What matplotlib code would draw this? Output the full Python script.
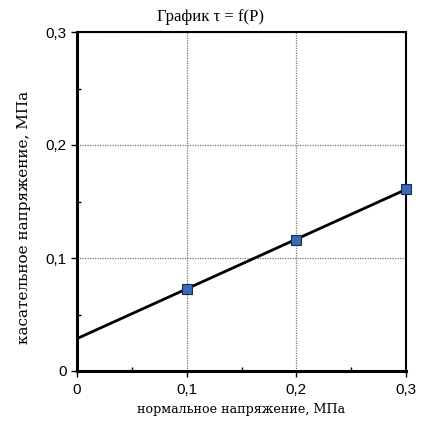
import numpy as np
import matplotlib
matplotlib.use("Agg")
import matplotlib.pyplot as plt
from matplotlib.ticker import FixedLocator, FuncFormatter

# data
p_values = [0.1, 0.2, 0.3]
tau_values = [0.073, 0.116, 0.161]
x_ticks = [0, 0.1, 0.2, 0.3]
y_ticks = [0, 0.1, 0.2, 0.3]
title = "График τ = f(P)"
xlabel = "нормальное напряжение, МПа"
ylabel = "касательное напряжение, МПа"

fig = plt.figure(figsize=(4.21, 4.21), dpi=100)
ax = fig.add_axes([77/421, 1-371/421, (406-77)/421, (371-32)/421])

# trend line (least squares) over full x range
k, b = np.polyfit(p_values, tau_values, 1)
xl = np.array([x_ticks[0], x_ticks[-1]])
ax.plot(xl, k*xl + b, color="black", lw=2, zorder=3)
ax.plot(p_values, tau_values, ls="none", marker="s", ms=7, mfc="#3a6bb5",
        mec="#1a2a50", mew=0.8, zorder=4, clip_on=False)

ax.set_xlim(0, 0.3)
ax.set_ylim(0, 0.3)
ax.xaxis.set_major_locator(FixedLocator(x_ticks))
ax.yaxis.set_major_locator(FixedLocator(y_ticks))
ax.xaxis.set_minor_locator(FixedLocator([0.05, 0.15, 0.25]))
ax.yaxis.set_minor_locator(FixedLocator([0.05, 0.15, 0.25]))
fmt = FuncFormatter(lambda v, pos: "0" if abs(v) < 1e-9 else f"{v:.1f}".replace(".", ","))
ax.xaxis.set_major_formatter(fmt)
ax.yaxis.set_major_formatter(fmt)
ax.grid(True, which="major", color="#777777", ls=(0, (1, 1)), lw=0.9)
ax.tick_params(which="major", direction="out", length=4, width=1, labelsize=11)
ax.tick_params(which="minor", direction="in", length=3, width=1)
ax.tick_params(axis="x", pad=5)
for lab in ax.get_xticklabels() + ax.get_yticklabels():
    lab.set_family("Liberation Sans")
for s in ["left", "bottom"]:
    ax.spines[s].set_linewidth(2.2)
for s in ["top", "right"]:
    ax.spines[s].set_linewidth(1.5)

fig.text(0.5, 1-17/421, title, family="Liberation Serif", fontsize=12,
         ha="center", va="center")
ax.set_xlabel(xlabel, family="DejaVu Serif", fontsize=9.1, labelpad=4)
ax.set_ylabel(ylabel, family="DejaVu Serif", fontsize=11, va="center")
ax.yaxis.set_label_coords((24-77)/329, (371-217)/339)

fig.savefig("out.png", dpi=100)
